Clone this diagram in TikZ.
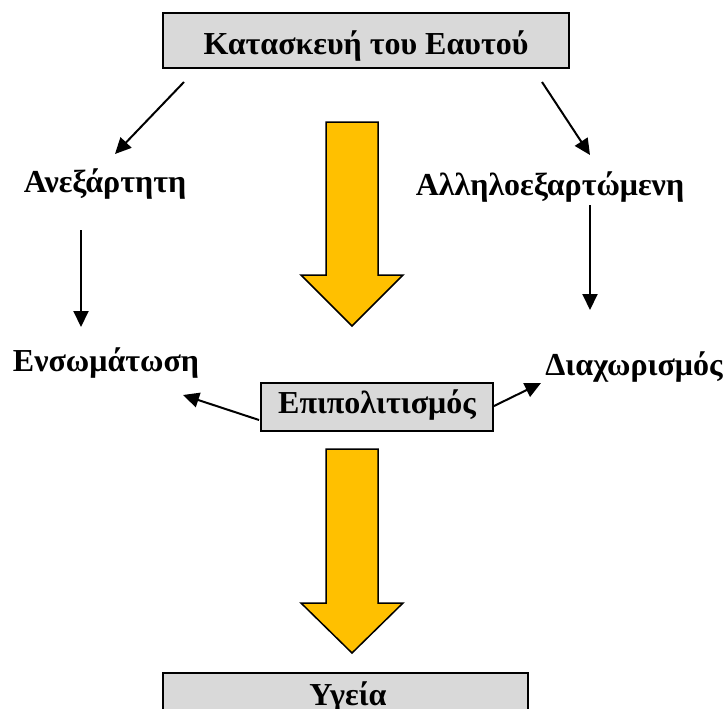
\documentclass[tikz,border=0pt]{standalone}
\usepackage{fontspec}
\setmainfont{Liberation Serif}
\usetikzlibrary{arrows.meta}
\definecolor{boxgray}{RGB}{217,217,217}
\definecolor{gold}{RGB}{255,192,0}
\begin{document}
\begin{tikzpicture}[x=1pt,y=-1pt,
  lbl/.style={font=\fontsize{32}{38}\selectfont\bfseries, inner sep=0pt, anchor=base},
  box/.style={draw=black, line width=1.7pt, fill=boxgray, inner sep=0pt},
  link/.style={line width=2pt, -{Triangle[length=16pt,width=15pt]}},
  bigarrow/.style={draw=black, line width=1.5pt, fill=gold, line join=miter}]
\useasboundingbox (0,0) rectangle (726,709);

% boxes
\node[box, minimum width=406pt, minimum height=55pt] (self) at (366,40.5) {};
\node[lbl] (selftxt) at (366,55) {Κατασκευή του Εαυτού};
\node[box, minimum width=232pt, minimum height=48pt] (accult) at (377,407) {};
\node[lbl] (accultxt) at (377,413) {Επιπολιτισμός};
\node[box, minimum width=365pt, minimum height=60pt] (health) at (345.5,703) {};
\node[lbl] (healthtxt) at (348,705) {Υγεία};

% side labels
\node[lbl] (indep) at (105,192) {Ανεξάρτητη};
\node[lbl] (interdep) at (550,195) {Αλληλοεξαρτώμενη};
\node[lbl] (integr) at (106,371) {Ενσωμάτωση};
\node[lbl] (separ) at (634,375) {Διαχωρισμός};

% connector end points
\coordinate (a1s) at (184,82);
\coordinate (a1e) at (115,154);
\coordinate (a2s) at (542,82);
\coordinate (a2e) at (590,155);
\coordinate (a3s) at (81,230);
\coordinate (a3e) at (81,327);
\coordinate (a4s) at (590,205);
\coordinate (a4e) at (590,310);
\coordinate (a5s) at (259,420);
\coordinate (a5e) at (183,395);
\coordinate (a6s) at (494,406);
\coordinate (a6e) at (541,383);

\draw[link] (a1s) -- (a1e);
\draw[link] (a2s) -- (a2e);
\draw[link] (a3s) -- (a3e);
\draw[link] (a4s) -- (a4e);
\draw[link] (a5s) -- (a5e);
\draw[link] (a6s) -- (a6e);

% broad yellow arrows
\draw[bigarrow] (326,122) -- (378,122) -- (378,275) -- (403,275) -- (352,326)
  -- (301,275) -- (326,275) -- cycle;
\draw[bigarrow] (326,449) -- (378,449) -- (378,603) -- (403,603) -- (352,653)
  -- (301,603) -- (326,603) -- cycle;
\end{tikzpicture}
\end{document}
